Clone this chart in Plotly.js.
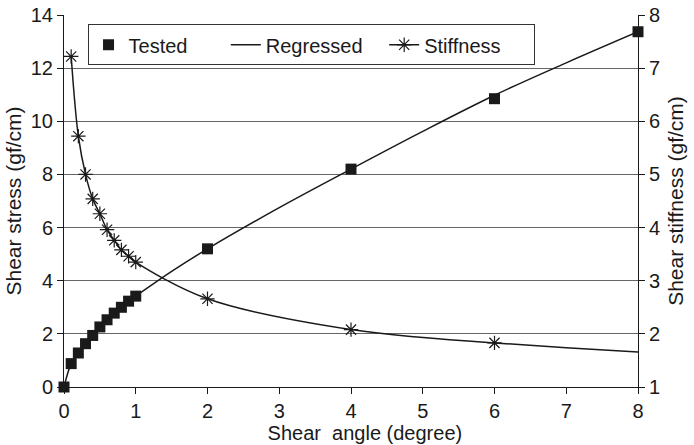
<!DOCTYPE html>
<html>
<head>
<meta charset="utf-8">
<script src="https://cdn.plot.ly/plotly-3.0.1.min.js"></script>
<style>
  html, body { margin: 0; padding: 0; background: #fff; }
  #chart { width: 694px; height: 445px; }
</style>
</head>
<body>
<div id="chart"></div>
<script>
// Measured shear stress against shear angle
const testedAngle  = [0, 0.1, 0.2, 0.3, 0.4, 0.5, 0.6, 0.7, 0.8, 0.9, 1, 2, 4, 6, 8];
const testedStress = [0, 0.88, 1.28, 1.63, 1.94, 2.26, 2.53, 2.78, 3.0, 3.23, 3.42, 5.2, 8.2, 10.85, 13.37];

// Regression curve of shear stress
const regAngle  = [0, 0.1, 0.2, 0.3, 0.4, 0.5, 0.6, 0.7, 0.8, 0.9, 1, 1.5, 2, 3, 4, 5, 6, 7, 8];
const regStress = [0, 0.88, 1.28, 1.63, 1.94, 2.26, 2.53, 2.78, 3.0, 3.23, 3.42, 4.35, 5.2, 6.75, 8.2, 9.62, 10.98, 12.2, 13.37];

// Shear stiffness (right axis)
const stiffAngle = [0.1, 0.2, 0.3, 0.4, 0.5, 0.6, 0.7, 0.8, 0.9, 1, 2, 4, 6];
const stiffness  = [7.22, 5.72, 5.0, 4.54, 4.26, 3.96, 3.76, 3.58, 3.46, 3.35, 2.66, 2.08, 1.83];
// continuation of the stiffness curve past the last measured point
const stiffTailAngle = [6, 7, 8];
const stiffTail      = [1.83, 1.74, 1.66];

// Axis ticks
const xTicks  = [0, 1, 2, 3, 4, 5, 6, 7, 8];
const yTicks  = [0, 2, 4, 6, 8, 10, 12, 14];
const y2Ticks = [1, 2, 3, 4, 5, 6, 7, 8];

const NB = '\u00a0';
const ZW = '\u200b';   // keeps leading spacing from being trimmed
const FONT = 'Liberation Sans, Arial, sans-serif';
const INK = '#1a1a1a';

const traces = [
  {
    x: testedAngle, y: testedStress, name: 'Tested' + NB.repeat(6),
    type: 'scatter', mode: 'markers', cliponaxis: false,
    marker: { symbol: 'square', size: 11, color: INK }
  },
  {
    x: regAngle, y: regStress, name: 'Regressed' + NB.repeat(3),
    type: 'scatter', mode: 'lines',
    line: { color: INK, width: 1.5, shape: 'spline' }
  },
  {
    x: stiffAngle, y: stiffness, name: 'Stiffness' + NB.repeat(5), yaxis: 'y2',
    type: 'scatter', mode: 'lines+markers', cliponaxis: false,
    line: { color: INK, width: 1.5, shape: 'spline' },
    marker: { symbol: 'asterisk-open', size: 12, color: INK, line: { color: INK, width: 1.2 } }
  },
  {
    x: stiffTailAngle, y: stiffTail, yaxis: 'y2', showlegend: false,
    type: 'scatter', mode: 'lines', hoverinfo: 'skip',
    line: { color: INK, width: 1.5, shape: 'spline' }
  }
];

const layout = {
  width: 694, height: 445,
  margin: { l: 64, r: 56, t: 15, b: 58 },
  paper_bgcolor: '#fff', plot_bgcolor: '#fff',
  font: { family: FONT, size: 20, color: INK },
  showlegend: true,
  legend: {
    orientation: 'h', x: 0.041, xanchor: 'left', y: 0.975, yanchor: 'top',
    bgcolor: '#fff', bordercolor: '#333', borderwidth: 1,
    font: { family: FONT, size: 20, color: INK },
    itemwidth: 30, tracegroupgap: 0
  },
  xaxis: {
    range: [0, 8], tickvals: xTicks, ticks: 'outside', ticklen: 6, tickcolor: INK,
    showline: true, linecolor: INK, linewidth: 1, showgrid: false, zeroline: false,
    tickfont: { size: 20 },
    title: { text: ZW + NB.repeat(5) + 'Shear' + NB + ' angle (degree)', font: { size: 20 }, standoff: 4 }
  },
  yaxis: {
    range: [0, 14], tickvals: yTicks, ticks: 'outside', ticklen: 6, tickcolor: INK,
    showline: true, linecolor: INK, linewidth: 1,
    showgrid: true, gridcolor: '#666', gridwidth: 1, zeroline: false,
    tickfont: { size: 20 },
    title: { text: 'Shear stress (gf/cm)', font: { size: 21 }, standoff: 3 }
  },
  yaxis2: {
    range: [1, 8], tickvals: y2Ticks, ticks: 'outside', ticklen: 6, tickcolor: INK,
    overlaying: 'y', side: 'right',
    showline: true, linecolor: INK, linewidth: 1, showgrid: false, zeroline: false,
    tickfont: { size: 20 },
    title: { text: 'Shear stiffness (gf/cm)', font: { size: 21 }, standoff: 9 }
  }
};

Plotly.newPlot('chart', traces, layout, { displayModeBar: false, staticPlot: true });
</script>
</body>
</html>
